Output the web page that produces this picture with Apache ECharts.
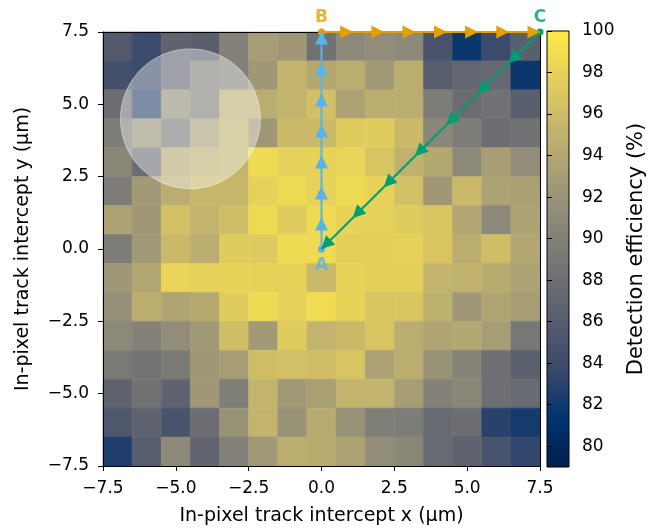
<!DOCTYPE html>
<html>
<head>
<meta charset="utf-8">
<script src="https://cdn.jsdelivr.net/npm/echarts@6/dist/echarts.min.js"></script>
<style>
  html, body { margin: 0; padding: 0; background: #fff; }
  #chart { width: 649px; height: 532px; }
</style>
</head>
<body>
<div id="chart"></div>
<script>
// ---------------- data ----------------
const xCenters = [-7, -6, -5, -4, -3, -2, -1, 0, 1, 2, 3, 4, 5, 6, 7];
const yCenters = [7, 6, 5, 4, 3, 2, 1, 0, -1, -2, -3, -4, -5, -6, -7];
// detection efficiency (%), rows from y = 7 (top) to y = -7 (bottom)
const efficiency = [
  [85.7, 83.9, 86.8, 86.3, 90.1, 93.0, 92.4, 88.4, 90.9, 91.3, 90.9, 85.0, 81.8, 83.9, 86.3],
  [84.6, 83.9, 86.8, 89.5, 90.1, 92.4, 95.2, 94.1, 94.6, 92.7, 94.6, 86.1, 87.1, 87.3, 81.8],
  [87.9, 83.0, 91.3, 89.5, 94.6, 94.6, 95.2, 96.3, 93.5, 94.6, 94.6, 89.5, 87.9, 88.4, 86.3],
  [89.5, 91.8, 89.0, 93.0, 95.2, 92.4, 95.7, 95.7, 97.4, 97.4, 95.7, 90.7, 89.5, 87.9, 88.4],
  [90.7, 87.9, 94.1, 94.6, 95.2, 98.6, 97.8, 97.8, 98.1, 96.8, 95.0, 94.1, 90.9, 93.0, 91.3],
  [89.5, 92.7, 94.6, 95.5, 95.5, 97.8, 98.5, 97.8, 98.5, 98.0, 96.3, 92.4, 95.7, 93.5, 93.3],
  [93.5, 92.4, 96.3, 95.2, 96.1, 98.5, 97.4, 98.5, 98.0, 97.8, 97.4, 96.8, 93.9, 90.9, 93.5],
  [89.5, 92.7, 95.7, 94.6, 97.4, 97.2, 98.6, 98.6, 97.7, 97.7, 97.8, 96.8, 94.6, 96.1, 93.9],
  [92.4, 93.9, 98.1, 97.8, 98.0, 98.0, 97.9, 95.7, 98.0, 97.7, 97.7, 95.2, 95.0, 94.4, 93.5],
  [91.6, 94.6, 93.8, 94.3, 97.4, 98.6, 97.8, 98.8, 98.0, 96.8, 96.8, 94.9, 92.4, 93.8, 93.0],
  [90.9, 90.1, 91.3, 92.6, 96.1, 92.7, 97.4, 95.2, 95.7, 96.8, 94.6, 93.8, 93.9, 93.0, 89.0],
  [89.2, 88.5, 89.3, 92.4, 93.0, 96.1, 96.3, 96.1, 96.8, 93.5, 94.6, 91.8, 90.3, 88.2, 86.5],
  [86.8, 88.4, 86.8, 92.4, 89.8, 95.2, 92.7, 93.2, 95.2, 95.2, 93.0, 90.1, 90.7, 88.1, 87.5],
  [85.4, 86.8, 85.0, 87.9, 91.8, 95.2, 91.8, 94.4, 91.8, 89.8, 89.5, 87.5, 87.9, 83.0, 82.2],
  [82.6, 86.1, 90.9, 87.0, 90.1, 92.6, 94.6, 94.4, 93.5, 91.3, 90.7, 87.5, 86.8, 85.0, 83.4]
];
const axisMin = -7.5;
const axisMax = 7.5;
const axisStep = 2.5;
const cbMin = 79.0;
const cbMax = 100;
const cbTicks = [80, 82, 84, 86, 88, 90, 92, 94, 96, 98, 100];

// track paths
const pathAB = [[0, 0], [0, 7.5]];
const pathBC = [[0, 7.5], [7.5, 7.5]];
const pathCA = [[7.5, 7.5], [0, 0]];
const arrowsAB = [[0, 1.07], [0, 2.14], [0, 3.21], [0, 4.29], [0, 5.36], [0, 6.43], [0, 7.5]];
const arrowsBC = [[1.07, 7.5], [2.14, 7.5], [3.21, 7.5], [4.29, 7.5], [5.36, 7.5], [6.43, 7.5], [7.5, 7.5]];
const arrowsCA = [[6.43, 6.43], [5.36, 5.36], [4.29, 4.29], [3.21, 3.21], [2.14, 2.14], [1.07, 1.07], [0, 0]];
const pointNames = ['A', 'B', 'C'];
const pointX = [0, 0, 7.5];
const pointY = [0, 7.5, 7.5];
// highlighted region
const circleCenter = [-4.5, 4.5];
const circleRadius = 2.4;

// ---------------- styles ----------------
const cividis = ['#00204D', '#00336F', '#39486B', '#575C6D', '#707173',
                 '#8A8779', '#A69D75', '#C4B56C', '#E4CF5B', '#FFEA46'];
const FONT = 'DejaVu Sans';
const BLUE = '#56B4E9', ORANGE = '#E69F00', GREEN = '#009E73';
const pointColors = [BLUE, ORANGE, GREEN];

const cells = [];
yCenters.forEach((y, i) => xCenters.forEach((x, j) => cells.push([x, y, efficiency[i][j]])));

function fmt(v) {
  const s = Math.abs(v).toFixed(1);
  return (v < 0 ? '\u2212' : '') + s;
}

const chart = echarts.init(document.getElementById('chart'), null, { renderer: 'canvas' });

const mainAxisCommon = {
  type: 'value', min: axisMin, max: axisMax, interval: axisStep,
  gridIndex: 0, z: 5,
  axisLine: { show: true, onZero: false, lineStyle: { color: '#000', width: 1 } },
  axisTick: { show: true, inside: false, length: 5, lineStyle: { color: '#000', width: 1 } },
  axisLabel: { show: true, color: '#000', fontFamily: FONT, fontSize: 17, margin: 14, formatter: fmt },
  splitLine: { show: false },
  nameLocation: 'middle',
  nameTextStyle: { color: '#000', fontFamily: FONT, fontSize: 19 }
};
const frameAxis = {
  type: 'value', min: axisMin, max: axisMax, gridIndex: 0, z: 5,
  axisLine: { show: true, onZero: false, lineStyle: { color: '#000', width: 1 } },
  axisTick: { show: false }, axisLabel: { show: false }, splitLine: { show: false }
};

function triSeries(data, color, rot, offset) {
  return {
    type: 'scatter', xAxisIndex: 0, yAxisIndex: 0, data: data,
    symbol: 'triangle', symbolSize: 13, symbolRotate: rot, symbolOffset: offset,
    itemStyle: { color: color, opacity: 1 }, z: 12, silent: true, clip: false
  };
}
function lineSeries(data, color, z) {
  return {
    type: 'line', xAxisIndex: 0, yAxisIndex: 0,
    data: data.map((p, k) => ({ value: p, symbol: k === 0 ? 'circle' : 'none' })),
    symbolSize: 7, showSymbol: true,
    itemStyle: { color: color }, lineStyle: { color: color, width: 2 },
    z: z, silent: true, clip: false, animation: false
  };
}

const option = {
  animation: false,
  textStyle: { fontFamily: FONT },
  grid: [
    { left: 103, right: 109, top: 32, bottom: 66 },
    { left: 547, width: 22, top: 31, height: 436 }
  ],
  xAxis: [
    Object.assign({}, mainAxisCommon, { position: 'bottom', name: 'In-pixel track intercept x (\u03bcm)', nameGap: 41 }),
    Object.assign({}, frameAxis, { position: 'top' }),
    { type: 'value', gridIndex: 1, min: 0, max: 1, show: false }
  ],
  yAxis: [
    Object.assign({}, mainAxisCommon, { position: 'left', name: 'In-pixel track intercept y (\u03bcm)', nameGap: 70, nameRotate: 90 }),
    Object.assign({}, frameAxis, { position: 'right' }),
    {
      type: 'value', gridIndex: 1, min: cbMin, max: cbMax, position: 'right', z: 5,
      axisLine: { show: false },
      axisTick: { show: true, length: 5, customValues: cbTicks, lineStyle: { color: '#000' } },
      axisLabel: { show: true, customValues: cbTicks, color: '#000', fontFamily: FONT, fontSize: 17, margin: 13 },
      splitLine: { show: false },
      name: 'Detection efficiency (%)', nameLocation: 'middle', nameRotate: 90, nameGap: 57,
      nameTextStyle: { color: '#000', fontFamily: FONT, fontSize: 21 }
    }
  ],
  visualMap: {
    type: 'continuous', show: false, min: cbMin, max: cbMax, dimension: 2, seriesIndex: 0,
    inRange: { color: cividis }
  },
  series: [
    {
      type: 'custom', xAxisIndex: 0, yAxisIndex: 0, data: cells, z: 1, silent: true,
      renderItem: function (params, api) {
        const x = api.value(0), y = api.value(1);
        const p0 = api.coord([x - 0.5, y + 0.5]);
        const p1 = api.coord([x + 0.5, y - 0.5]);
        const c = api.visual('color');
        return {
          type: 'rect',
          shape: { x: p0[0], y: p0[1], width: p1[0] - p0[0], height: p1[1] - p0[1] },
          style: { fill: c, stroke: c, lineWidth: 0.6 }
        };
      }
    },
    {
      type: 'custom', xAxisIndex: 0, yAxisIndex: 0, data: [circleCenter], z: 3, silent: true, clip: false,
      renderItem: function (params, api) {
        const c = api.coord([api.value(0), api.value(1)]);
        const e = api.coord([api.value(0) + circleRadius, api.value(1)]);
        return {
          type: 'circle',
          shape: { cx: c[0], cy: c[1], r: e[0] - c[0] },
          style: { fill: 'rgba(255,255,255,0.4)', stroke: 'rgba(255,255,255,0.45)', lineWidth: 1 }
        };
      }
    },
    {
      type: 'custom', xAxisIndex: 2, yAxisIndex: 2, data: [[0, cbMin, cbMax]], z: 2, silent: true,
      renderItem: function (params, api) {
        const p0 = api.coord([0, api.value(2)]);
        const p1 = api.coord([1, api.value(1)]);
        const stops = cividis.map((c, k) => ({ offset: 1 - k / (cividis.length - 1), color: c }));
        return {
          type: 'rect',
          shape: { x: p0[0], y: p0[1], width: p1[0] - p0[0], height: p1[1] - p0[1] },
          style: { fill: new echarts.graphic.LinearGradient(0, 0, 0, 1, stops), stroke: '#000', lineWidth: 1 }
        };
      }
    },
    lineSeries(pathBC, ORANGE, 8),
    triSeries(arrowsBC, ORANGE, -90, [-6, 0]),
    lineSeries(pathAB, BLUE, 9),
    triSeries(arrowsAB, BLUE, 0, [0, 6]),
    lineSeries(pathCA, GREEN, 10),
    triSeries(arrowsCA, GREEN, 135, [4.5, -4.5]),
    {
      type: 'scatter', xAxisIndex: 0, yAxisIndex: 0, symbolSize: 0, z: 15, silent: true, clip: false,
      data: pointNames.map((n, k) => ({
        name: n, value: [pointX[k], pointY[k]],
        label: {
          show: true, formatter: n, color: pointColors[k], fontFamily: FONT, fontSize: 17, fontWeight: 'bold',
          position: k === 0 ? 'bottom' : 'top', distance: k === 0 ? 8 : 6
        }
      }))
    }
  ]
};
chart.setOption(option);
</script>
</body>
</html>
